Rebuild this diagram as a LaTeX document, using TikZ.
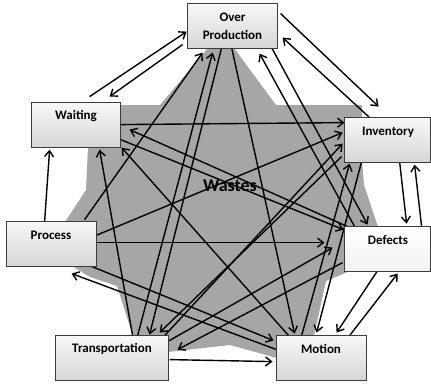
\documentclass[tikz,border=0pt]{standalone}
\usepackage{fontspec}
\setmainfont{Carlito}
\usetikzlibrary{arrows.meta,calc}
\definecolor{stargray}{RGB}{166,166,166}
\definecolor{boxedge}{RGB}{60,60,60}
\tikzset{
  box/.style={draw=boxedge, line width=0.8pt, rectangle, inner sep=0pt,
    top color=gray!6, bottom color=gray!32},
  lbl/.style={font=\bfseries\fontsize{13}{15}\selectfont, inner sep=0pt},
  arr/.style={line width=1.4pt, -{Straight Barb[length=6pt,width=9pt,line width=1.4pt]}},
}
\begin{document}
\begin{tikzpicture}[x=1pt,y=-1pt]
\useasboundingbox (0,0) rectangle (431,383);
% star background
\fill[stargray] (208,48) -- (234,48) -- (276,105) -- (362,105) -- (362,160) -- (364,185)
  -- (378,227) -- (378,260) -- (350,271) -- (326,281) -- (314,336) -- (300,350)
  -- (277,358) -- (230,345) -- (168,352) -- (160,340) -- (133,336) -- (117,286)
  -- (90,277) -- (72,266) -- (40,250) -- (65,222) -- (86,190) -- (88,147)
  -- (100,140) -- (110,105) -- (160,105) -- cycle;
% box nodes (drawn later on top), declared as coordinates of corners
\path[use as bounding box=false];
\coordinate (opc) at (188,4);
\node[box, minimum width=89pt, minimum height=44pt] (op) at (232.5,26) {};
\node[box, minimum width=88pt, minimum height=44pt] (w) at (76,125) {};
\node[box, minimum width=85pt, minimum height=44pt] (inv) at (387.5,140) {};
\node[box, minimum width=89pt, minimum height=44pt] (pr) at (51.5,244) {};
\node[box, minimum width=85pt, minimum height=44pt, top color=white, bottom color=gray!10] (def) at (387.5,249) {};
\node[box, minimum width=112pt, minimum height=44pt, top color=gray!4, bottom color=gray!22] (tr) at (112,358) {};
\node[box, minimum width=89pt, minimum height=44pt] (mo) at (321.5,358) {};
% connectors
\draw[arr] ($(w.north west)+(58,-6)$) -- ($(op.north west)+(-1,28)$);
\draw[arr] ($(op.north west)+(-5,41)$) -- ($(w.north west)+(78,-6)$);
\draw[arr] ($(op.north west)+(93,10)$) -- ($(inv.north west)+(34,-11)$);
\draw[arr] ($(inv.north west)+(25,0)$) -- ($(op.north west)+(95,34)$);
\draw[arr] ($(pr.north west)+(78,-2)$) -- ($(op.north west)+(15,49)$);
\draw[arr] ($(tr.north west)+(82,0)$) -- ($(op.north west)+(25,49)$);
\draw[arr] ($(op.north west)+(34,44)$) -- ($(tr.north west)+(94,-1)$);
\draw[arr] ($(op.north west)+(44,44)$) -- ($(mo.north west)+(18,-2)$);
\draw[arr] ($(def.north west)+(10,0)$) -- ($(op.north west)+(72,50)$);
\draw[arr] ($(op.north west)+(84,44)$) -- ($(def.north west)+(23,-2)$);
\draw[arr] ($(w.north west)+(88,22)$) -- ($(inv.north west)+(0,5)$);
\draw[arr] ($(def.north west)+(3,0)$) -- ($(w.north west)+(98,27)$);
\draw[arr] ($(w.north west)+(89,37)$) -- ($(def.north west)+(-1,3)$);
\draw[arr] ($(mo.north west)+(12,0)$) -- ($(w.north west)+(90,45)$);
\draw[arr] ($(tr.north west)+(77,0)$) -- ($(w.north west)+(68,47)$);
\draw[arr] ($(pr.north west)+(38,0)$) -- ($(w.north west)+(18,47)$);
\draw[arr] ($(pr.north west)+(89,14)$) -- ($(inv.north west)+(-2,15)$);
\draw[arr] ($(tr.north west)+(109,0)$) -- ($(inv.north west)+(-2,26)$);
\draw[arr] ($(inv.north west)+(-3,39)$) -- ($(tr.north west)+(104,-3)$);
\draw[arr] ($(inv.north west)+(17,44)$) -- ($(mo.north west)+(40,-3)$);
\draw[arr] ($(mo.north west)+(25,0)$) -- ($(inv.north west)+(5,46)$);
\draw[arr] ($(inv.north west)+(55,44)$) -- ($(def.north west)+(62,-3)$);
\draw[arr] ($(def.north west)+(77,0)$) -- ($(inv.north west)+(70,47)$);
\draw[arr] ($(pr.north west)+(89,21)$) -- ($(def.north west)+(-20,16)$);
\draw[arr] ($(def.north west)+(33,44)$) -- ($(mo.north west)+(60,-3)$);
\draw[arr] ($(mo.north west)+(73,0)$) -- ($(def.north west)+(53,47)$);
\draw[arr] ($(def.north west)+(-2,36)$) -- ($(tr.north west)+(122,14)$);
\draw[arr] ($(tr.north west)+(112,6)$) -- ($(def.north west)+(-12,21)$);
\draw[arr] ($(tr.north west)+(114,24)$) -- ($(mo.north west)+(-4,26)$);
\draw[arr] ($(pr.north west)+(83,44)$) -- ($(mo.north west)+(-3,5)$);
\draw[arr] ($(mo.north west)+(0,14)$) -- ($(pr.north west)+(65,52)$);
% boxes redrawn on top
\foreach \n in {op,w,inv,pr,tr,mo}{
  \path[box] (\n.north west) rectangle (\n.south east);
}
\path[box, top color=white, bottom color=gray!10] (def.north west) rectangle (def.south east);
% labels
\node[lbl, align=center] (opl) at (232.5,26.5) {Over\\[3pt]Production};
\node[lbl] (wl) at (76,116) {Waiting};
\node[lbl] (invl) at (388,132) {Inventory};
\node[lbl] (prl) at (51,235) {Process};
\node[lbl] (defl) at (388,240) {Defects};
\node[lbl] (trl) at (112,349) {Transportation};
\node[lbl] (mol) at (321,349) {Motion};
\node[font=\bfseries\fontsize{18}{20}\selectfont, inner sep=0pt] (wastes) at (230,186) {Wastes};
\end{tikzpicture}
\end{document}
